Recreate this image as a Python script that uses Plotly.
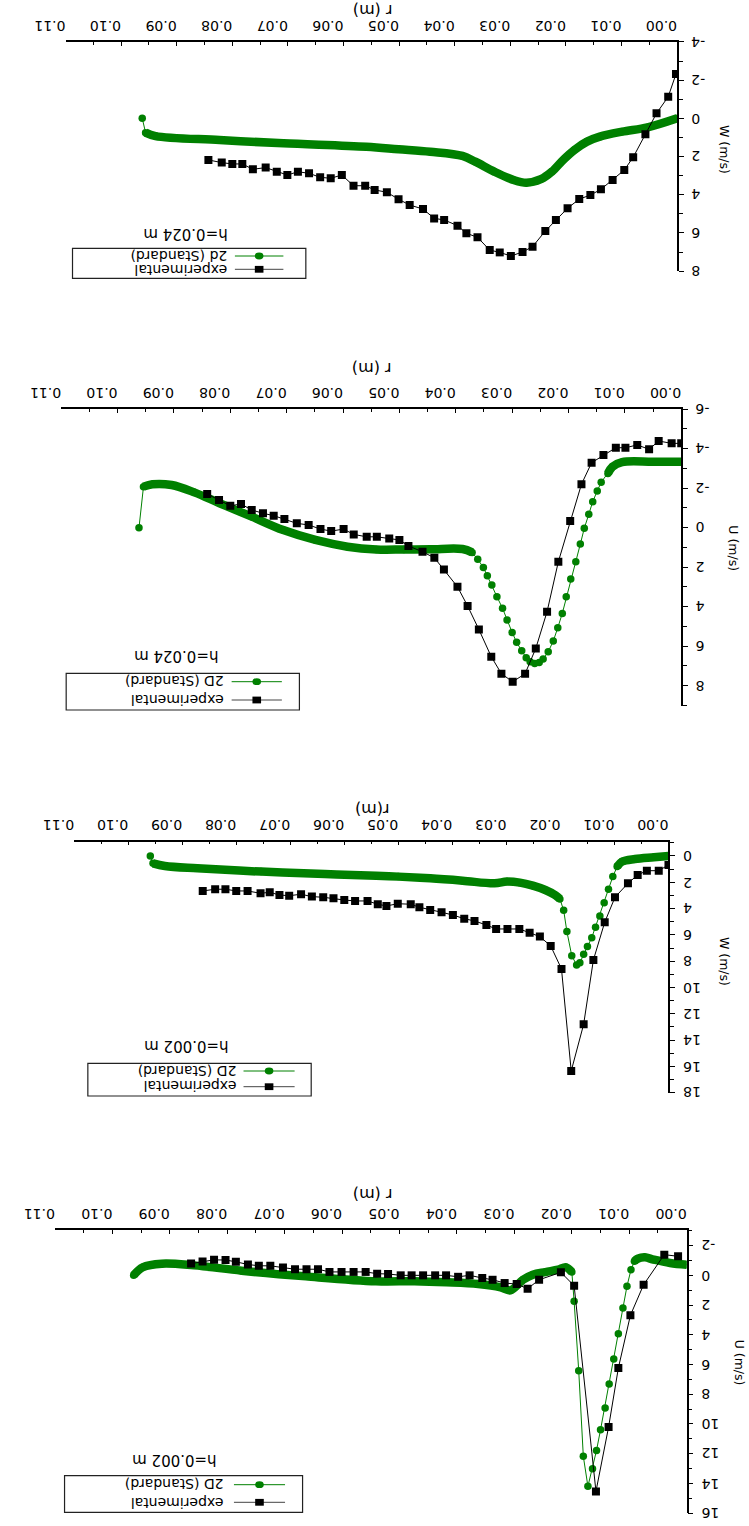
import plotly.graph_objects as go

FIG_W, FIG_H = 749, 1526

# ---------------- data ----------------
# Panel 1 : W (m/s), h = 0.024 m
p1_exp_r = [0.0002, 0.0016, 0.0037, 0.0057, 0.0079, 0.0095, 0.0116, 0.0137, 0.0156, 0.0176,
            0.0197, 0.0218, 0.0237, 0.0260, 0.0278, 0.0299, 0.0319, 0.0337, 0.0359, 0.0379,
            0.0395, 0.0419, 0.0437, 0.0457, 0.0481, 0.0501, 0.0522, 0.0544, 0.0561, 0.0582,
            0.0603, 0.0623, 0.0642, 0.0662, 0.0682, 0.0701, 0.0720, 0.0740, 0.0763, 0.0782,
            0.0800, 0.0819, 0.0843]
p1_exp_v = [-2.32, -1.13, -0.26, 0.84, 2.04, 2.71, 3.23, 3.72, 4.02, 4.23,
            4.71, 5.32, 5.90, 6.72, 7.00, 7.21, 7.02, 6.90, 6.23, 6.02,
            5.62, 5.32, 5.24, 4.75, 4.54, 4.24, 3.87, 3.75, 3.53, 3.53,
            2.97, 3.14, 3.09, 2.88, 2.80, 2.97, 2.80, 2.58, 2.67, 2.39,
            2.39, 2.32, 2.18]
p1_cfd_r = [0.0, 0.0053, 0.0099, 0.0139, 0.0162, 0.0185, 0.0205, 0.0225, 0.0245, 0.0271,
            0.0294, 0.0329, 0.0363, 0.0386, 0.0444, 0.0501, 0.0559, 0.0708, 0.0823, 0.0938,
            0.0956, 0.0962]
p1_cfd_v = [0.0, 0.47, 0.70, 0.96, 1.22, 1.66, 2.18, 2.79, 3.19, 3.37,
            3.23, 2.79, 2.27, 1.97, 1.75, 1.62, 1.49, 1.31, 1.14, 0.93,
            0.75, 0.0]
p1_dense = [(0, 20)]

# Panel 2 : U (m/s), h = 0.024 m
p2_exp_r = [0.0000, 0.0017, 0.0040, 0.0057, 0.0078, 0.0099, 0.0116, 0.0138, 0.0159, 0.0177,
            0.0197, 0.0218, 0.0238, 0.0258, 0.0277, 0.0299, 0.0319, 0.0337, 0.0359, 0.0379,
            0.0397, 0.0421, 0.0438, 0.0459, 0.0484, 0.0500, 0.0518, 0.0540, 0.0558, 0.0581,
            0.0599, 0.0621, 0.0640, 0.0661, 0.0682, 0.0704, 0.0723, 0.0742, 0.0762, 0.0781,
            0.0800, 0.0820, 0.0841]
p2_exp_v = [-4.27, -4.27, -4.39, -3.97, -4.19, -4.05, -4.05, -3.68, -3.29, -2.20,
            -0.34, 1.72, 4.25, 6.11, 7.39, 7.80, 7.39, 6.53, 5.15, 3.96,
            2.99, 2.11, 1.52, 1.22, 0.92, 0.62, 0.54, 0.46, 0.46, 0.34,
            0.07, 0.17, 0.07, -0.14, -0.22, -0.44, -0.61, -0.73, -0.90, -1.20,
            -1.11, -1.40, -1.71]
p2_cfd_r = [0.0, 0.0050, 0.0105, 0.0122, 0.0130, 0.0142, 0.0149, 0.0157, 0.0164, 0.0172,
            0.0179, 0.0187, 0.0196, 0.0204, 0.0211, 0.0219, 0.0227, 0.0236, 0.0245, 0.0252,
            0.0260, 0.0268, 0.0275, 0.0283, 0.0292, 0.0300, 0.0309, 0.0317, 0.0327, 0.0336,
            0.0344, 0.0351, 0.0361, 0.0371, 0.0388, 0.0445, 0.0492, 0.0541, 0.0592, 0.0649,
            0.0706, 0.0762, 0.0819, 0.0864, 0.0904, 0.0938, 0.0954, 0.0962]
p2_cfd_v = [-3.34, -3.34, -3.32, -3.09, -2.75, -2.30, -1.86, -1.32, -0.68, 0.03,
            0.83, 1.72, 2.60, 3.49, 4.34, 5.06, 5.74, 6.28, 6.65, 6.82,
            6.87, 6.78, 6.58, 6.23, 5.80, 5.30, 4.67, 4.08, 3.49, 2.90,
            2.43, 2.01, 1.60, 1.25, 1.08, 1.09, 1.10, 1.10, 0.96, 0.62,
            0.12, -0.56, -1.24, -1.79, -2.16, -2.20, -2.08, 0.0]
p2_dense = [(0, 4), (33, 46)]

# Panel 3 : W (m/s), h = 0.002 m
p3_exp_r = [0.0000, 0.0018, 0.0040, 0.0057, 0.0075, 0.0099, 0.0118, 0.0139, 0.0157, 0.0180,
            0.0198, 0.0218, 0.0238, 0.0257, 0.0276, 0.0298, 0.0319, 0.0337, 0.0359, 0.0378,
            0.0399, 0.0420, 0.0441, 0.0461, 0.0477, 0.0501, 0.0522, 0.0538, 0.0557, 0.0580,
            0.0600, 0.0620, 0.0639, 0.0660, 0.0680, 0.0702, 0.0720, 0.0738, 0.0755, 0.0779,
            0.0800, 0.0820, 0.0839, 0.0862]
p3_exp_v = [0.68, 1.12, 1.12, 1.44, 2.08, 3.14, 5.04, 7.91, 12.80, 16.35,
            8.59, 6.84, 6.13, 5.83, 5.55, 5.55, 5.55, 5.25, 4.94, 4.77,
            4.49, 4.28, 4.11, 3.90, 3.67, 3.63, 3.80, 3.67, 3.42, 3.42,
            3.35, 3.22, 3.14, 3.09, 2.91, 3.02, 2.97, 2.76, 2.84, 2.66,
            2.66, 2.53, 2.53, 2.66]
p3_cfd_r = [0.0, 0.0027, 0.0062, 0.0086, 0.0095, 0.0103, 0.0111, 0.0119, 0.0127, 0.0135,
            0.0142, 0.0150, 0.0157, 0.0164, 0.0170, 0.0179, 0.0188, 0.0194, 0.0201, 0.0210,
            0.0228, 0.0251, 0.0275, 0.0299, 0.0322, 0.0381, 0.0441, 0.0500, 0.0541, 0.0636,
            0.0754, 0.0872, 0.0932, 0.0954, 0.0959]
p3_cfd_v = [0.0, 0.10, 0.23, 0.43, 0.81, 1.57, 2.53, 3.55, 4.56, 5.42,
            6.21, 6.89, 7.48, 8.11, 8.29, 7.58, 5.75, 4.13, 3.27, 2.97,
            2.59, 2.26, 2.03, 1.95, 2.08, 1.88, 1.70, 1.57, 1.50, 1.37,
            1.19, 0.94, 0.76, 0.56, 0.0]
p3_dense = [(0, 4), (18, 33)]

# Panel 4 : U (m/s), h = 0.002 m
p4_exp_r = [0.0015, 0.0039, 0.0075, 0.0098, 0.0119, 0.0136, 0.0158, 0.0196, 0.0219, 0.0257,
            0.0277, 0.0296, 0.0317, 0.0338, 0.0356, 0.0378, 0.0398, 0.0419, 0.0438, 0.0459,
            0.0479, 0.0498, 0.0520, 0.0539, 0.0559, 0.0580, 0.0601, 0.0622, 0.0642, 0.0662,
            0.0682, 0.0703, 0.0725, 0.0745, 0.0764, 0.0785, 0.0803, 0.0823, 0.0843, 0.0863]
p4_exp_v = [-1.28, -1.39, 0.63, 2.69, 6.24, 10.21, 14.54, 0.70, -0.20, 0.30,
            0.90, 0.59, 0.52, 0.30, 0.18, 0.00, 0.10, 0.00, 0.00, 0.00,
            0.00, 0.00, -0.09, -0.11, -0.23, -0.23, -0.23, -0.23, -0.41, -0.41,
            -0.41, -0.52, -0.64, -0.64, -0.73, -0.91, -1.03, -1.04, -0.93, -0.79]
p4_cfd_r = [0.0, 0.0029, 0.0057, 0.0073, 0.0085, 0.0091, 0.0097, 0.0104, 0.0111, 0.0119,
            0.0127, 0.0135, 0.0142, 0.0150, 0.0157, 0.0164, 0.0172, 0.0180, 0.0188, 0.0196,
            0.0200, 0.0210, 0.0224, 0.0246, 0.0268, 0.0285, 0.0307, 0.0324, 0.0363, 0.0418,
            0.0474, 0.0541, 0.0663, 0.0775, 0.0858, 0.0914, 0.0947, 0.0963]
p4_cfd_v = [-0.71, -0.83, -1.05, -1.21, -1.12, -0.94, -0.38, 0.74, 2.20, 3.93,
            5.63, 7.31, 8.93, 10.39, 11.78, 13.01, 14.20, 12.18, 6.42, 1.75,
            -0.22, -0.54, -0.38, -0.22, -0.04, 0.30, 1.01, 0.81, 0.59, 0.47,
            0.40, 0.40, 0.07, -0.31, -0.67, -0.78, -0.54, 0.0]
p4_dense = [(0, 5), (20, 37)]

r_tick_vals = [0.00, 0.01, 0.02, 0.03, 0.04, 0.05, 0.06, 0.07, 0.08, 0.09, 0.10, 0.11]
r_tick_text = ["0.00", "0.01", "0.02", "0.03", "0.04", "0.05", "0.06", "0.07", "0.08", "0.09", "0.10", "0.11"]

GREEN = "#008000"
FONT = "DejaVu Sans"


def px(x):
    return x / FIG_W


def py(y):
    return 1 - y / FIG_H


panels = [
    dict(exp=(p1_exp_r, p1_exp_v), cfd=(p1_cfd_r, p1_cfd_v), dense=p1_dense,
         xdom=(36, 674), ydom=(41.9, 271.1), yrange=(8, -4), ytick0=-4, ytickN=8,
         xtitle="r (m)", xtitle_pos=(356, 11), ytitle="W (m/s)", ytitle_pos=(724, 149),
         hlabel="h=0.024 m", hpos=(161, 234), cfd_name="2d (Standard)",
         box=(43.3, 248.3, 286.7, 278.3), rows=(256, 269.3), text_right=206.7, sample=(212.7, 263.3)),
    dict(exp=(p2_exp_r, p2_exp_v), cfd=(p2_cfd_r, p2_cfd_v), dense=p2_dense,
         xdom=(31.5, 678.3), ydom=(409.2, 705.5), yrange=(9, -6), ytick0=-6, ytickN=8,
         xtitle="r (m)", xtitle_pos=(355, 368), ytitle="U (m/s)", ytitle_pos=(733, 548),
         hlabel="h=0.024 m", hpos=(152, 656), cfd_name="2D (Standard)",
         box=(36.7, 673.3, 280, 710), rows=(681.7, 700), text_right=203.3, sample=(209.3, 261.7)),
    dict(exp=(p3_exp_r, p3_exp_v), cfd=(p3_cfd_r, p3_cfd_v), dense=p3_dense,
         xdom=(45, 665), ydom=(841.5, 1092.7), yrange=(18, -1.1), ytick0=0, ytickN=18,
         xtitle="r(m)", xtitle_pos=(356, 810), ytitle="W (m/s)", ytitle_pos=(724, 961),
         hlabel="h=0.002 m", hpos=(162, 1046.7), cfd_name="2D (Standard)",
         box=(59.3, 1063.3, 292.3, 1096), rows=(1071, 1086.7), text_right=216.7, sample=(221.7, 275)),
    dict(exp=(p4_exp_r, p4_exp_v), cfd=(p4_cfd_r, p4_cfd_v), dense=p4_dense,
         xdom=(25, 684), ydom=(1230, 1513.1), yrange=(16, -3.05), ytick0=-2, ytickN=16,
         xtitle="r (m)", xtitle_pos=(356, 1195), ytitle="U (m/s)", ytitle_pos=(740, 1363),
         hlabel="h=0.002 m", hpos=(150, 1460.7), cfd_name="2D (Standard)",
         box=(35, 1475.7, 283.3, 1512.3), rows=(1484.7, 1502.3), text_right=202.7, sample=(211.7, 265)),
]

fig = go.Figure()
layout = dict(width=FIG_W, height=FIG_H, margin=dict(l=0, r=0, t=0, b=0, pad=0),
              paper_bgcolor="white", plot_bgcolor="white", showlegend=False,
              font=dict(family=FONT, color="black"))
shapes = []
annotations = []

for i, p in enumerate(panels, start=1):
    xa = "x" if i == 1 else f"x{i}"
    ya = "y" if i == 1 else f"y{i}"
    xkey = "xaxis" if i == 1 else f"xaxis{i}"
    ykey = "yaxis" if i == 1 else f"yaxis{i}"

    cr, cv = p["cfd"]
    # dense CFD bands (closely packed markers)
    for (a, b) in p["dense"]:
        fig.add_trace(go.Scatter(x=cr[a:b + 1], y=cv[a:b + 1], mode="lines",
                                 line=dict(color=GREEN, width=8.5, shape="spline"),
                                 xaxis=xa, yaxis=ya, hoverinfo="skip"))
    # CFD points
    fig.add_trace(go.Scatter(x=cr, y=cv, mode="lines+markers",
                             line=dict(color=GREEN, width=1),
                             marker=dict(symbol="circle", size=7.5, color=GREEN),
                             xaxis=xa, yaxis=ya))
    # experimental
    er, ev = p["exp"]
    fig.add_trace(go.Scatter(x=er, y=ev, mode="lines+markers",
                             line=dict(color="black", width=1),
                             marker=dict(symbol="square", size=8, color="black"),
                             xaxis=xa, yaxis=ya))

    x0, x1 = p["xdom"]
    y0, y1 = p["ydom"]
    layout[xkey] = dict(domain=[px(x0), px(x1)], anchor=ya, side="top",
                        range=[0.11, 0.0], tickvals=r_tick_vals, ticktext=r_tick_text,
                        tickangle=180, ticks="inside", ticklen=4, tickwidth=1.2,
                        tickcolor="black", showline=True, linecolor="black", linewidth=1.5,
                        showgrid=False, zeroline=False,
                        tickfont=dict(family=FONT, size=14, color="black"),
                        minor=dict(dtick=0.005, tick0=0, ticks="inside", ticklen=3,
                                   tickcolor="black", tickwidth=1.2, showgrid=False))
    yt = list(range(p["ytick0"], p["ytickN"] + 1, 2))
    layout[ykey] = dict(domain=[py(y1), py(y0)], anchor=xa, side="right",
                        range=list(p["yrange"]), tickvals=yt, showticklabels=False,
                        ticks="outside", ticklen=5, tickwidth=1.2,
                        tickcolor="black", showline=True, linecolor="black", linewidth=1.5,
                        showgrid=False, zeroline=False,
                        minor=dict(dtick=1, tick0=0, ticks="outside", ticklen=4,
                                   tickcolor="black", tickwidth=1.2, showgrid=False))
    # y tick labels, upside down, to the right of the axis
    for v in yt:
        annotations.append(dict(text=str(v), x=px(x1 + 13), y=v, xref="paper", yref=ya,
                                showarrow=False, textangle=180, xanchor="left", yanchor="middle",
                                font=dict(family=FONT, size=14, color="black")))

    # axis titles (rotated like the picture)
    tx, ty = p["xtitle_pos"]
    annotations.append(dict(text=p["xtitle"], x=px(tx), y=py(ty), xref="paper", yref="paper",
                            showarrow=False, textangle=180, xanchor="center", yanchor="middle",
                            font=dict(family=FONT, size=16, color="black")))
    tx, ty = p["ytitle_pos"]
    annotations.append(dict(text=p["ytitle"], x=px(tx), y=py(ty), xref="paper", yref="paper",
                            showarrow=False, textangle=90, xanchor="center", yanchor="middle",
                            font=dict(family=FONT, size=12.5, color="black")))
    # height label
    hx, hy = p["hpos"]
    annotations.append(dict(text=p["hlabel"], x=px(hx), y=py(hy), xref="paper", yref="paper",
                            showarrow=False, textangle=180, xanchor="center", yanchor="middle",
                            font=dict(family=FONT, size=15, color="black")))
    # legend box
    bx0, by0, bx1, by1 = p["box"]
    shapes.append(dict(type="rect", xref="paper", yref="paper", x0=px(bx0), x1=px(bx1),
                       y0=py(by1), y1=py(by0), line=dict(color="#222222", width=1.2),
                       fillcolor="rgba(0,0,0,0)"))
    row_cfd, row_exp = p["rows"]
    sx0, sx1 = p["sample"]
    smid = (sx0 + sx1) / 2
    for row, name, col, sym in [(row_cfd, p["cfd_name"], GREEN, "circle"),
                                (row_exp, "experimental", "black", "square")]:
        shapes.append(dict(type="line", xref="paper", yref="paper", x0=px(sx0), x1=px(sx1),
                           y0=py(row), y1=py(row),
                           line=dict(color=col if col == GREEN else "#444444", width=1)))
        shapes.append(dict(type=("circle" if sym == "circle" else "rect"), xref="paper", yref="paper",
                           x0=px(smid - 4.5), x1=px(smid + 4.5), y0=py(row + 3.4), y1=py(row - 3.4),
                           line=dict(color=col, width=0), fillcolor=col))
        annotations.append(dict(text=name, x=px(p["text_right"]), y=py(row), xref="paper", yref="paper",
                                showarrow=False, textangle=180, xanchor="right", yanchor="middle",
                                font=dict(family=FONT, size=14, color="black")))

layout["shapes"] = shapes
layout["annotations"] = annotations
fig.update_layout(**layout)
fig.write_html("out.html")
